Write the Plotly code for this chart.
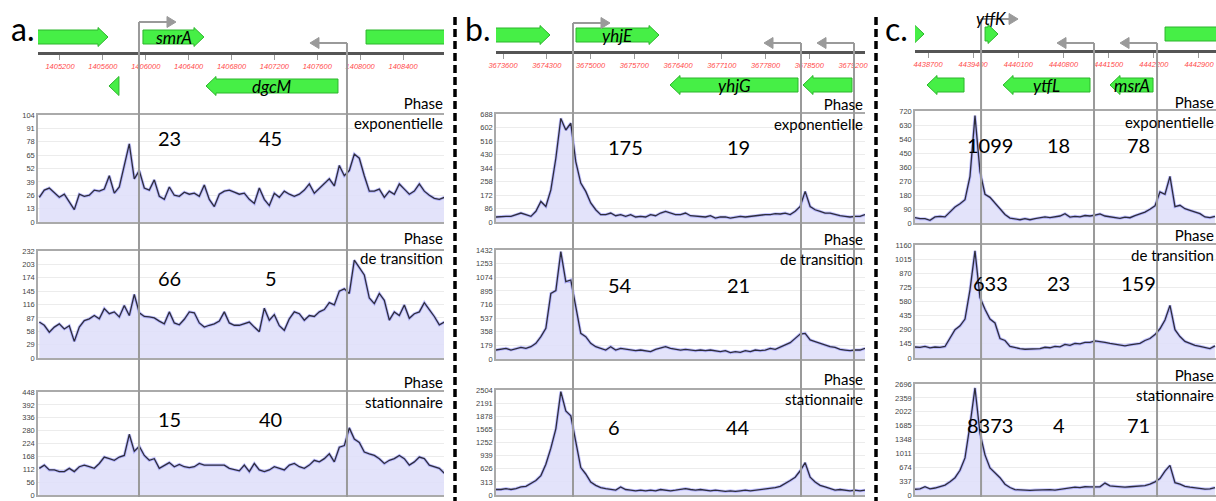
import numpy as np
import plotly.graph_objects as go

W, H = 1216, 501

# ---------------- data ----------------
panel_letters = ["a.", "b.", "c."]
phase_names = ["Phase<br>exponentielle", "Phase<br>de transition", "Phase<br>stationnaire"]

view_a = [1404995, 1408782]
view_b = [3673488, 3679392]
view_c = [4438498, 4443164]
tick_start = [1405200, 3673600, 4438700]
tick_step = [400, 700, 700]

cov_window_a = [1405007, 1408785]
cov_window_b = [3673488, 3679392]
cov_window_c = [4438498, 4443148]

# genes: (name, start, end, strand)
genes_a = [("", 1404985, 1405648, "+"), ("smrA", 1405974, 1406543, "+"), ("", 1408055, 1409200, "+"),
           ("", 1405657, 1405750, "-"), ("dgcM", 1406562, 1407793, "-")]
genes_b = [("", 3673456, 3674352, "+"), ("yhjE", 3674768, 3676096, "+"),
           ("yhjG", 3676272, 3678320, "-"), ("", 3678400, 3679184, "-")]
genes_c = [("", 4438452, 4438638, "+"), ("ytfK", 4439584, 4439785, "+"), ("", 4442374, 4443600, "+"),
           ("", 4438684, 4439258, "-"), ("ytfL", 4439863, 4441211, "-"), ("msrA", 4441521, 4442188, "-")]

# promoters: (position, strand)
promoters_a = [(1405937, "+"), (1407877, "-")]
promoters_b = [(3674720, "+"), (3678368, "-"), (3679216, "-")]
promoters_c = [(4439522, "+"), (4441273, "-"), (4442250, "-")]

# coverage profiles
cov_a_exp = [24, 31, 33, 28, 24, 27, 20, 12, 27, 25, 26, 31, 30, 32, 45, 28, 34, 55, 76, 42, 50, 33, 31, 41, 25,
             22, 34, 26, 25, 29, 27, 28, 25, 36, 22, 15, 27, 30, 31, 29, 27, 28, 22, 18, 33, 22, 16, 28, 24, 30,
             27, 25, 27, 31, 37, 28, 33, 38, 42, 35, 55, 45, 50, 66, 62, 45, 30, 30, 32, 24, 30, 27, 37, 32, 27,
             30, 37, 30, 26, 23, 22, 24]
cov_a_tra = [78, 71, 56, 67, 74, 63, 70, 36, 67, 81, 85, 92, 85, 107, 96, 100, 89, 114, 92, 138, 98, 90, 89, 87,
             80, 74, 100, 76, 72, 84, 100, 98, 76, 67, 71, 74, 80, 100, 76, 71, 71, 74, 78, 67, 57, 108, 82, 94,
             70, 60, 85, 100, 96, 82, 92, 90, 100, 105, 120, 115, 145, 150, 140, 212, 195, 180, 130, 118, 140,
             125, 82, 100, 92, 115, 86, 96, 100, 120, 105, 90, 72, 78]
cov_a_sta = [116, 130, 109, 109, 102, 102, 116, 102, 123, 130, 123, 116, 137, 165, 158, 151, 165, 172, 264, 190,
             212, 172, 151, 158, 116, 130, 141, 123, 133, 123, 119, 123, 137, 130, 130, 130, 127, 130, 116, 109,
             105, 130, 102, 137, 109, 102, 109, 123, 116, 109, 130, 137, 123, 116, 130, 151, 144, 158, 179, 144,
             208, 215, 292, 243, 229, 187, 179, 172, 158, 137, 151, 158, 172, 158, 130, 144, 165, 158, 130, 123,
             116, 95]
cov_b_exp = [32, 36, 36, 36, 47, 57, 47, 36, 68, 131, 99, 205, 406, 660, 586, 629, 385, 248, 195, 121, 78, 47, 47,
             57, 40, 47, 36, 47, 32, 36, 32, 47, 40, 57, 68, 57, 47, 47, 57, 40, 36, 36, 32, 40, 25, 32, 32, 25,
             32, 36, 32, 36, 36, 40, 47, 47, 53, 51, 57, 47, 68, 99, 195, 99, 78, 68, 57, 57, 47, 40, 36, 32, 36,
             36, 47]
cov_b_tra = [118, 127, 140, 118, 140, 153, 140, 162, 206, 293, 403, 862, 898, 1410, 1016, 1038, 687, 337, 293,
             206, 162, 140, 118, 162, 118, 140, 127, 118, 109, 118, 109, 96, 127, 140, 162, 140, 127, 118, 127,
             118, 109, 118, 109, 118, 109, 96, 109, 83, 96, 88, 109, 96, 118, 109, 118, 140, 127, 153, 184, 215,
             271, 328, 337, 250, 228, 206, 184, 162, 153, 127, 118, 109, 118, 118, 140]
cov_b_sta = [131, 131, 154, 131, 154, 193, 208, 270, 347, 462, 732, 1117, 1579, 2465, 2003, 1888, 1271, 655, 501,
             308, 231, 177, 154, 131, 116, 193, 131, 116, 100, 116, 100, 116, 100, 131, 116, 100, 116, 131, 154,
             131, 116, 131, 116, 100, 116, 100, 85, 100, 85, 100, 116, 100, 116, 131, 131, 154, 177, 208, 270,
             347, 424, 578, 770, 424, 308, 231, 193, 154, 116, 131, 116, 100, 116, 100, 116]
cov_c_exp = [34, 28, 28, 17, 39, 43, 39, 71, 103, 124, 150, 300, 690, 330, 185, 165, 130, 95, 55, 32, 26, 21, 28,
             21, 28, 34, 39, 34, 39, 45, 60, 38, 43, 40, 48, 45, 50, 58, 45, 40, 35, 30, 38, 34, 47, 58, 70, 88,
             110, 200, 185, 300, 105, 114, 92, 81, 71, 60, 39, 34, 43]
cov_c_tra = [113, 110, 120, 105, 113, 110, 118, 200, 290, 330, 400, 700, 1100, 620, 500, 400, 360, 200, 180, 120,
             105, 96, 90, 92, 100, 96, 110, 105, 120, 115, 140, 130, 150, 145, 160, 160, 175, 170, 160, 150, 140,
             130, 125, 135, 140, 150, 180, 200, 240, 300, 390, 540, 290, 220, 170, 150, 130, 120, 110, 96, 125]
cov_c_sta = [140, 150, 200, 150, 170, 200, 240, 320, 420, 600, 900, 1700, 2600, 1500, 975, 658, 539, 420, 262, 182,
             130, 120, 119, 110, 119, 125, 119, 130, 119, 140, 150, 170, 190, 180, 200, 195, 205, 200, 290, 222,
             210, 200, 190, 200, 210, 220, 230, 262, 320, 400, 580, 720, 300, 262, 210, 190, 170, 160, 143, 150,
             182]

yticks_a = [[0, 13, 26, 39, 52, 65, 78, 91, 104], [0, 29, 58, 87, 116, 145, 174, 203, 232],
            [0, 56, 112, 168, 224, 280, 336, 392, 448]]
yticks_b = [[0, 86, 172, 258, 344, 430, 516, 602, 688], [0, 179, 358, 537, 716, 895, 1074, 1253, 1432],
            [0, 313, 626, 939, 1252, 1565, 1878, 2191, 2504]]
yticks_c = [[0, 90, 180, 270, 360, 450, 540, 630, 720], [0, 145, 290, 435, 580, 725, 870, 1015, 1160],
            [0, 337, 674, 1011, 1348, 1685, 2022, 2359, 2696]]

counts_a = [[23, 45], [66, 5], [15, 40]]
counts_b = [[175, 19], [54, 21], [6, 44]]
counts_c = [[1099, 18, 78], [633, 23, 159], [8373, 4, 71]]
count_x_a = [1406226, 1407168]
count_x_b = [3675248, 3677360]
count_x_c = [4439661, 4440730, 4441955]

panels = [
    dict(view=view_a, window=cov_window_a, genes=genes_a, proms=promoters_a,
         cov=[cov_a_exp, cov_a_tra, cov_a_sta], yticks=yticks_a, counts=counts_a, count_x=count_x_a),
    dict(view=view_b, window=cov_window_b, genes=genes_b, proms=promoters_b,
         cov=[cov_b_exp, cov_b_tra, cov_b_sta], yticks=yticks_b, counts=counts_b, count_x=count_x_b),
    dict(view=view_c, window=cov_window_c, genes=genes_c, proms=promoters_c,
         cov=[cov_c_exp, cov_c_tra, cov_c_sta], yticks=yticks_c, counts=counts_c, count_x=count_x_c),
]

# ---------------- layout style (pixels) ----------------
style = [
    dict(x0=38, x1=444, axis_y=53, rows=[(115, 222), (251, 358), (392, 495)], gene_y={"+": 37, "-": 86},
         prom_top={"+": 22, "-": 43}, label_right=445, phase_y=[113, 248, 391.5], count_y=[138, 278, 419],
         count_anchor=["center", "center"], letter_x=9),
    dict(x0=496, x1=865, axis_y=52, rows=[(114, 222), (250, 359), (390, 495)], gene_y={"+": 35, "-": 85},
         prom_top={"+": 23, "-": 43}, label_right=865, phase_y=[113.5, 249.5, 389], count_y=[147, 285, 427],
         count_anchor=["left", "center"], letter_x=463),
    dict(x0=915, x1=1216, axis_y=51, rows=[(111, 223), (245, 358), (384, 495)], gene_y={"+": 34, "-": 85},
         prom_top={"+": 19, "-": 43}, label_right=1216, phase_y=[112, 244.5, 385], count_y=[145, 283, 425],
         count_anchor=["center", "center", "center"], letter_x=883),
]

GREEN = "#46ef46"
GREEN_EDGE = "#2cb52c"
GREY = "#9a9a9a"
FONT = "Lato"


def axkey(k, letter):
    return f"{letter}axis" if k == 1 else f"{letter}axis{k}"


def ref(k, letter):
    return letter if k == 1 else f"{letter}{k}"


def py(y):
    return 1 - y / H


fig = go.Figure()
shapes, annotations, axes = [], [], {}

for ci, (pn, st) in enumerate(zip(panels, style)):
    rng = pn["view"]
    bpp = (rng[1] - rng[0]) / (st["x1"] - st["x0"])
    kg = ci * 4 + 1
    gx, gy = ref(kg, "x"), ref(kg, "y")
    dom = [st["x0"] / W, st["x1"] / W]

    # gene track axes
    axes[axkey(kg, "x")] = dict(domain=dom, range=rng, anchor="free", position=py(st["axis_y"]),
                                showline=True, linecolor="#555", linewidth=2.5, ticks="outside", ticklen=5,
                                tickwidth=1, tickcolor="#999", tick0=tick_start[ci], dtick=tick_step[ci],
                                tickformat="d", showgrid=False, zeroline=False, automargin=False,
                                tickfont=dict(size=7.5, color="#ff4b4b", family="Liberation Sans", style="italic"))
    axes[axkey(kg, "y")] = dict(domain=[py(100), 1], range=[100, 0], visible=False, anchor=gx,
                                automargin=False)
    fig.add_trace(go.Scatter(x=[rng[0]], y=[50], mode="markers", marker=dict(opacity=0),
                             xaxis=gx, yaxis=gy, hoverinfo="skip", showlegend=False))

    # genes
    head = 10 * bpp
    for name, s, e, strand in pn["genes"]:
        yc = st["gene_y"][strand]
        h, hh = 7, 9.5
        if strand == "+":
            tip, base, d = e, s, 1
        else:
            tip, base, d = s, e, -1
        hb = tip - d * head
        if (e - s) <= head * 1.05:
            path = f"M {base},{yc - hh} L {tip},{yc} L {base},{yc + hh} Z"
        else:
            path = (f"M {base},{yc - h} L {hb},{yc - h} L {hb},{yc - hh} L {tip},{yc} "
                    f"L {hb},{yc + hh} L {hb},{yc + h} L {base},{yc + h} Z")
        shapes.append(dict(type="path", path=path, xref=gx, yref=gy, fillcolor=GREEN,
                           line=dict(color=GREEN_EDGE, width=1), layer="above"))
        if name:
            length_px = (e - s) / bpp
            ly = yc if length_px > 30 else 18
            annotations.append(dict(text=name, x=(s + e) / 2, y=ly, xref=gx, yref=gy, showarrow=False,
                                    font=dict(family=FONT, size=17, color="black", style="italic"),
                                    xanchor="center", yanchor="middle"))

    # promoters
    bottom = st["rows"][-1][1]
    for pos, strand in pn["proms"]:
        yt = st["prom_top"][strand]
        d = 1 if strand == "+" else -1
        tip = pos + d * 37 * bpp
        hl = 9 * bpp
        shapes.append(dict(type="line", xref=gx, yref="paper", x0=pos, x1=pos, y0=py(yt), y1=py(bottom + 2),
                           line=dict(color=GREY, width=2)))
        shapes.append(dict(type="path", xref=gx, yref=gy, path=f"M {pos},{yt} L {tip - d * hl},{yt}",
                           line=dict(color=GREY, width=2)))
        shapes.append(dict(type="path", xref=gx, yref=gy,
                           path=f"M {tip},{yt} L {tip - d * hl},{yt - 5.5} L {tip - d * hl},{yt + 5.5} Z",
                           fillcolor=GREY, line=dict(color=GREY, width=1)))

    # coverage plots
    for r in range(3):
        k = kg + 1 + r
        cx, cy = ref(k, "x"), ref(k, "y")
        top, bot = st["rows"][r]
        vals = pn["cov"][r]
        xs = np.linspace(pn["window"][0], pn["window"][1], len(vals))
        ticks = pn["yticks"][r]
        axes[axkey(k, "x")] = dict(domain=dom, range=rng, anchor=cy, showticklabels=False, ticks="",
                                   showgrid=False, zeroline=False, showline=True, linecolor="#aaaaaa",
                                   linewidth=1.5, mirror=True, automargin=False)
        axes[axkey(k, "y")] = dict(domain=[py(bot), py(top)], range=[0, ticks[-1]], anchor=cx,
                                   tickvals=ticks, ticktext=[str(t) for t in ticks], ticks="",
                                   showgrid=True, gridcolor="#ececec", ticklabeloverflow="allow",
                                   zeroline=False, showline=True, linecolor="#aaaaaa", linewidth=1.5,
                                   automargin=False,
                                   tickfont=dict(size=7.5, color="#444", family="Liberation Sans"))
        fig.add_trace(go.Scatter(x=xs, y=vals, mode="lines", xaxis=cx, yaxis=cy, fill="tozeroy",
                                 fillcolor="rgba(224,224,250,0.9)", line=dict(color="rgba(120,120,255,0.45)", width=3),
                                 hoverinfo="skip", showlegend=False))
        fig.add_trace(go.Scatter(x=xs, y=vals, mode="lines", xaxis=cx, yaxis=cy,
                                 line=dict(color="#2d2d3c", width=1.3), hoverinfo="skip", showlegend=False))

        # phase label
        annotations.append(dict(text=phase_names[r], x=st["label_right"] / W, y=py(st["phase_y"][r]),
                                xref="paper", yref="paper", xanchor="right", yanchor="middle", align="right",
                                showarrow=False, font=dict(family=FONT, size=15, color="black")))
        # counts
        for j, val in enumerate(pn["counts"][r]):
            annotations.append(dict(text=str(val), x=pn["count_x"][j], y=py(st["count_y"][r]), xref=gx,
                                    yref="paper", xanchor=st["count_anchor"][j], yanchor="middle",
                                    showarrow=False, font=dict(family=FONT, size=20, color="black")))

    annotations.append(dict(text=panel_letters[ci], x=st["letter_x"] / W, y=py(28), xref="paper", yref="paper",
                            xanchor="left", yanchor="middle", showarrow=False,
                            font=dict(family=FONT, size=32, color="black")))

# dashed separators
for sx in (455, 876):
    shapes.append(dict(type="line", xref="paper", yref="paper", x0=sx / W, x1=sx / W, y0=py(17), y1=0,
                       line=dict(color="black", width=3.5, dash="8px,4px")))

fig.update_layout(template="none", width=W, height=H, margin=dict(l=0, r=0, t=0, b=0, pad=0),
                  paper_bgcolor="white", plot_bgcolor="white", showlegend=False, font=dict(family=FONT),
                  shapes=shapes, annotations=annotations, **axes)

fig.write_html("out.html", config={"displayModeBar": False},
               post_script="document.body.style.margin='0px';document.body.style.padding='0px';"
                           "document.body.style.overflow='hidden';")
